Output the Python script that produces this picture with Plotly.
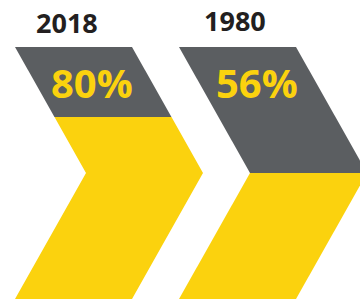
import plotly.graph_objects as go

# ---- data ----
years = ["2018", "1980"]
shares = [80, 56]                 # labelled percentages
yellow_fill_drawn = [0.722, 0.5]  # share of chevron height drawn yellow

# ---- styling / geometry ----
GRAY = "#5B5E61"
YELLOW = "#FBD20E"
TOP, MID, BOT = 47, 173, 299
W, SLANT = 117, 71
offsets = [15, 179]
year_pos = [(67, 22), (235, 20)]
label_pos = [(92, 82), (257, 82)]


def left_x(ox, y):
    if y <= MID:
        return ox + SLANT * (y - TOP) / (MID - TOP)
    return ox + SLANT * (BOT - y) / (BOT - MID)


def polygon(ox, y0, y1):
    ys = [y0] + ([MID] if y0 < MID < y1 else []) + [y1]
    left = [(left_x(ox, y), y) for y in ys]
    right = [(left_x(ox, y) + W, y) for y in ys]
    pts = left + right[::-1]
    xs = [p[0] for p in pts] + [pts[0][0]]
    yy = [p[1] for p in pts] + [pts[0][1]]
    return xs, yy


fig = go.Figure()
for i, ox in enumerate(offsets):
    split = BOT - yellow_fill_drawn[i] * (BOT - TOP)
    for (a, b, col) in [(TOP, split, GRAY), (split, BOT, YELLOW)]:
        xs, ys = polygon(ox, a, b)
        fig.add_trace(go.Scatter(x=xs, y=ys, mode="lines", fill="toself",
                                 fillcolor=col, line=dict(width=0, color=col),
                                 hoverinfo="skip", showlegend=False))
    fig.add_annotation(x=year_pos[i][0], y=year_pos[i][1], text=f"<b>{years[i]}</b>",
                       showarrow=False, font=dict(family="Open Sans", size=27, color="#231F20"),
                       xanchor="center", yanchor="middle")
    fig.add_annotation(x=label_pos[i][0], y=label_pos[i][1], text=f"<b>{shares[i]}%</b>",
                       showarrow=False, font=dict(family="Open Sans", size=40, color=YELLOW),
                       xanchor="center", yanchor="middle")

fig.update_layout(
    width=360, height=301,
    margin=dict(l=0, r=0, t=0, b=0),
    paper_bgcolor="white", plot_bgcolor="white",
    xaxis=dict(range=[0, 360], visible=False, fixedrange=True),
    yaxis=dict(range=[301, 0], visible=False, fixedrange=True),
)
fig.write_html("out.html", config={"displayModeBar": False, "staticPlot": True},
               post_script="document.body.style.margin='0';document.body.style.overflow='hidden';")
